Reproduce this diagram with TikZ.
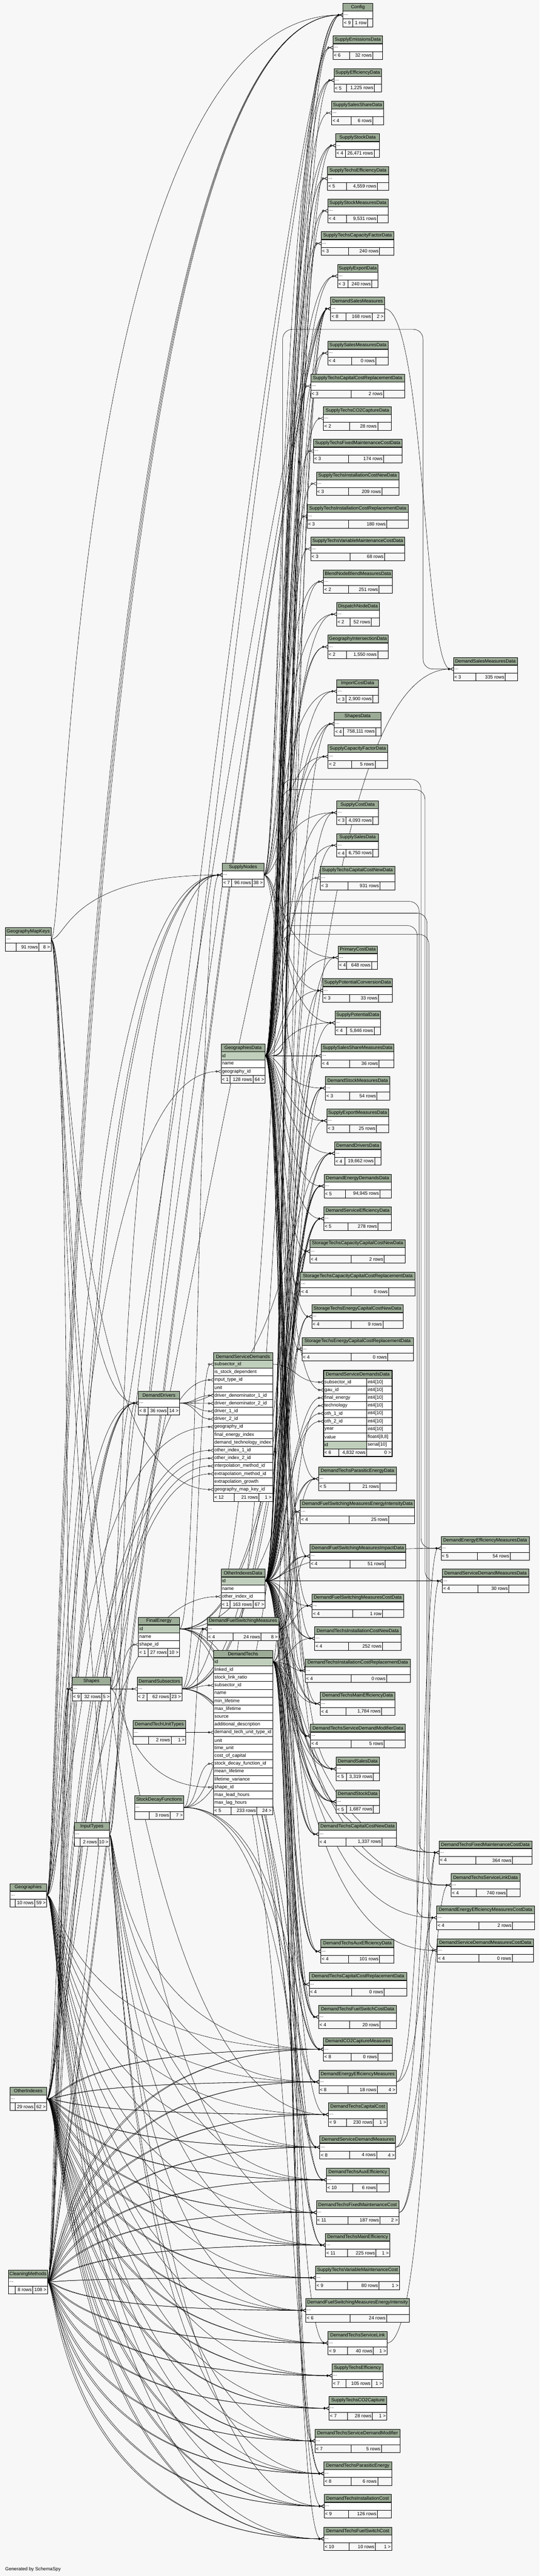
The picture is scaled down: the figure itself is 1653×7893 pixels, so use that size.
\documentclass[tikz,border=0pt]{standalone}
\usepackage{fontspec}
\setmainfont{Liberation Sans}
\usepackage{xcolor}
\usepackage{tikz}
\usetikzlibrary{arrows.meta}

\definecolor{pagebg}{HTML}{F7F7F7}
\definecolor{hdrgreen}{HTML}{9BAB96}
\definecolor{keygreen}{HTML}{BFCFBB}
\definecolor{footgray}{HTML}{F7F7F7}

\pgfdeclarelayer{back}
\pgfdeclarelayer{edges}
\pgfsetlayers{back,edges,main}

\newcommand{\tfont}{\fontsize{14.5}{16}\selectfont}

\tikzset{
  tblbox/.style={draw=black, line width=1pt, fill=white, minimum height=72, inner sep=0pt, outer sep=0pt},
  hdr/.style={draw=black, line width=1pt, fill=hdrgreen, minimum height=24, inner sep=0pt, outer sep=0pt, font=\tfont},
  cellbox/.style={draw=black, line width=1pt, minimum height=24, inner sep=0pt, outer sep=0pt},
  foot/.style={cellbox, fill=footgray},
  divline/.style={line width=1pt},
  txt/.style={inner sep=0pt, outer sep=0pt, font=\tfont},
  fk/.style={line width=0.9pt, -{Circle[open, length=6.5pt, width=6.5pt] Straight Barb[reversed, length=9pt, width=9pt]}}
}

% table pieces
\newcommand{\xhead}[4]{%
  \node[hdr, minimum width=#3, anchor=north west] (#1) at (#2) {#4};
  \draw[line width=2pt] (#1.south west) -- (#1.south east);}
\newcommand{\xrow}[5][white]{%
  \node[cellbox, fill=#1, minimum width=#4, anchor=north west] (#2) at (#3) {};
  \node[txt, anchor=west] (#2-t) at ([xshift=3]#2.west) {#5};}
\newcommand{\xrowt}[5][white]{%
  \node[cellbox, fill=#1, minimum width=132, anchor=north west] (#2) at (#3) {};
  \node[txt, anchor=west] (#2-t) at ([xshift=3]#2.west) {#4};
  \node[cellbox, fill=white, minimum width=78, anchor=north west] (#2-c) at (#2.north east) {};
  \node[txt, anchor=west] (#2-y) at ([xshift=3]#2-c.west) {#5};}
\newcommand{\xfoot}[8][]{%
  \node[foot, minimum width=#4, anchor=north west] (#2) at (#3) {};
  \draw[divline] ([xshift=#5]#2.north west) -- ([xshift=#5]#2.south west);
  \draw[divline] ([xshift=-#6]#2.north east) -- ([xshift=-#6]#2.south east);
  \node[txt, anchor=west] (#2-l) at ([xshift=3]#2.west) {#7};
  \node[txt, anchor=east] (#2-m) at ([xshift=-#6-3]#2.east) {#8};
  \node[txt, anchor=east] (#2-r) at ([xshift=-3]#2.east) {#1};}
\newcommand{\tbl}[9][]{%
  \node[tblbox, minimum width=#4, anchor=north west] (#2) at (#3) {};
  \xhead{#2-h}{#2.north west}{#4}{#5}
  \node[txt, anchor=west] (#2-d) at ([xshift=3]#2.west) {...};
  \xfoot[#1]{#2-f}{[yshift=-48]#2.north west}{#4}{#6}{#7}{#8}{#9}}
% connectors
\newcommand{\fk}[3]{\draw[fk] (#1) .. controls (#3,0 |- #1) and (#3,0 |- #2) .. (#2);}
\newcommand{\fkx}[4]{\draw[fk] (#1) .. controls (#3,0 |- #1) and (#4,0 |- #2) .. (#2);}
\newcommand{\fkarch}[4]{\draw[fk, rounded corners=30pt] (#1) -| (866,#3) -| (#4,0 |- #2) -- (#2);}

\newcommand{\geodatalist}{Config,SupplyEmissionsData,SupplyEfficiencyData,SupplySalesShareData,SupplyStockData,SupplyTechsEfficiencyData,SupplyStockMeasuresData,SupplyTechsCapacityFactorData,SupplyExportData,SupplySalesMeasuresData,SupplyTechsCapitalCostReplacementData,SupplyTechsCO2CaptureData,SupplyTechsFixedMaintenanceCostData,SupplyTechsInstallationCostNewData,SupplyTechsInstallationCostReplacementData,SupplyTechsVariableMaintenanceCostData,BlendNodeBlendMeasuresData,DispatchNodeData,GeographyIntersectionData,ImportCostData,ShapesData,SupplyCapacityFactorData,SupplyCostData,SupplySalesData,SupplyTechsCapitalCostNewData,PrimaryCostData,SupplyPotentialConversionData,SupplyPotentialData,SupplySalesShareMeasuresData,DemandStockMeasuresData,SupplyExportMeasuresData,DemandDriversData,DemandEnergyDemandsData,DemandServiceEfficiencyData,StorageTechsCapacityCapitalCostNewData,StorageTechsCapacityCapitalCostReplacementData,StorageTechsEnergyCapitalCostNewData,StorageTechsEnergyCapitalCostReplacementData,DemandTechsParasiticEnergyData,DemandFuelSwitchingMeasuresEnergyIntensityData,DemandFuelSwitchingMeasuresImpactData,DemandFuelSwitchingMeasuresCostData,DemandTechsInstallationCostNewData,DemandTechsInstallationCostReplacementData,DemandTechsMainEfficiencyData,DemandTechsServiceDemandModifierData,DemandSalesData,DemandStockData,DemandTechsCapitalCostNewData,DemandTechsAuxEfficiencyData,DemandTechsCapitalCostReplacementData,DemandTechsFuelSwitchCostData}
\newcommand{\othdatalist}{SupplyEmissionsData,SupplyEfficiencyData,SupplyStockData,SupplyTechsEfficiencyData,SupplyStockMeasuresData,SupplyTechsCapacityFactorData,SupplySalesMeasuresData,ShapesData,SupplyCostData,SupplySalesData,PrimaryCostData,SupplyPotentialConversionData,SupplyPotentialData,SupplySalesShareMeasuresData,DemandStockMeasuresData,SupplyExportMeasuresData,DemandDriversData,DemandEnergyDemandsData,DemandServiceEfficiencyData,StorageTechsCapacityCapitalCostNewData,StorageTechsCapacityCapitalCostReplacementData,StorageTechsEnergyCapitalCostNewData,StorageTechsEnergyCapitalCostReplacementData,DemandTechsParasiticEnergyData,DemandFuelSwitchingMeasuresEnergyIntensityData,DemandFuelSwitchingMeasuresImpactData,DemandFuelSwitchingMeasuresCostData,DemandTechsInstallationCostNewData,DemandTechsInstallationCostReplacementData,DemandTechsMainEfficiencyData,DemandTechsServiceDemandModifierData,DemandSalesData,DemandStockData,DemandTechsCapitalCostNewData,DemandTechsAuxEfficiencyData,DemandTechsCapitalCostReplacementData,DemandTechsFuelSwitchCostData,DemandSalesMeasuresData,DemandEnergyEfficiencyMeasuresData,DemandServiceDemandMeasuresData,DemandTechsFixedMaintenanceCostData,DemandTechsServiceLinkData,DemandEnergyEfficiencyMeasuresCostData,DemandServiceDemandMeasuresCostData}
\newcommand{\othtwolist}{DemandEnergyDemandsData,DemandServiceEfficiencyData,DemandDriversData,DemandSalesData,DemandStockData,DemandTechsMainEfficiencyData,DemandTechsAuxEfficiencyData,DemandTechsParasiticEnergyData,DemandFuelSwitchingMeasuresImpactData,DemandTechsInstallationCostNewData,DemandTechsCapitalCostNewData,StorageTechsCapacityCapitalCostNewData,StorageTechsEnergyCapitalCostNewData,DemandTechsServiceDemandModifierData,DemandTechsFuelSwitchCostData}
\newcommand{\dtlist}{DemandTechsParasiticEnergyData,DemandTechsInstallationCostNewData,DemandTechsInstallationCostReplacementData,DemandTechsMainEfficiencyData,DemandTechsServiceDemandModifierData,DemandSalesData,DemandStockData,DemandTechsCapitalCostNewData,DemandTechsAuxEfficiencyData,DemandTechsCapitalCostReplacementData,DemandTechsFuelSwitchCostData,DemandTechsAuxEfficiency,DemandTechsCapitalCost,DemandTechsFixedMaintenanceCost,DemandTechsMainEfficiency,DemandTechsServiceLink,DemandTechsServiceDemandModifier,DemandTechsParasiticEnergy,DemandTechsInstallationCost,DemandTechsFuelSwitchCost,DemandSalesMeasures,DemandTechsFixedMaintenanceCostData,DemandTechsServiceLinkData}
\newcommand{\bottomlist}{DemandCO2CaptureMeasures,DemandEnergyEfficiencyMeasures,DemandTechsCapitalCost,DemandServiceDemandMeasures,DemandTechsAuxEfficiency,DemandTechsFixedMaintenanceCost,DemandTechsMainEfficiency,SupplyTechsVariableMaintenanceCost,DemandFuelSwitchingMeasuresEnergyIntensity,DemandTechsServiceLink,SupplyTechsEfficiency,SupplyTechsCO2Capture,DemandTechsServiceDemandModifier,DemandTechsParasiticEnergy,DemandTechsInstallationCost,DemandTechsFuelSwitchCost}
\newcommand{\nodelist}{SupplyEfficiencyData,SupplyStockData,SupplyExportData,BlendNodeBlendMeasuresData,DispatchNodeData,ImportCostData,SupplyCapacityFactorData,SupplyCostData,PrimaryCostData,SupplyPotentialConversionData,SupplyPotentialData,SupplyExportMeasuresData}

\begin{document}
\begin{tikzpicture}[x=1pt,y=1pt]
    \useasboundingbox (0,0) rectangle (1653,-7893);
    \begin{pgfonlayer}{back}
        \fill[pagebg] (0,0) rectangle (1653,-7893);
    \end{pgfonlayer}

    % right column
    \tbl{Config}{1051,-10}{91}{Config}{30}{16}{< 9}{1 row}
    \tbl{SupplyEmissionsData}{1020,-110}{152}{SupplyEmissionsData}{51}{30}{< 6}{32 rows}
    \tbl{SupplyEfficiencyData}{1023,-210}{146}{SupplyEfficiencyData}{38}{22}{< 5}{1,225 rows}
    \tbl{SupplySalesShareData}{1016,-310}{159}{SupplySalesShareData}{59}{33}{< 4}{6 rows}
    \tbl{SupplyStockData}{1028,-410}{135}{SupplyStockData}{30}{17}{< 4}{26,471 rows}
    \tbl{SupplyTechsEfficiencyData}{1003,-511}{187}{SupplyTechsEfficiencyData}{58}{34}{< 5}{4,559 rows}
    \tbl{SupplyStockMeasuresData}{1004,-610}{185}{SupplyStockMeasuresData}{57}{33}{< 4}{9,531 rows}
    \tbl{SupplyTechsCapacityFactorData}{984,-710}{223}{SupplyTechsCapacityFactorData}{83}{44}{< 3}{240 rows}
    \tbl{SupplyExportData}{1034,-810}{124}{SupplyExportData}{32}{19}{< 3}{240 rows}
    \tbl[2 >]{DemandSalesMeasures}{1013,-910}{165}{DemandSalesMeasures}{47}{38}{< 8}{168 rows}
    \tbl{SupplySalesMeasuresData}{1004,-1046}{185}{SupplySalesMeasuresData}{73}{38}{< 4}{0 rows}
    \tbl{SupplyTechsCapitalCostReplacementData}{952,-1147}{287}{SupplyTechsCapitalCostReplacementData}{123}{64}{< 3}{2 rows}
    \tbl{SupplyTechsCO2CaptureData}{991,-1246}{208}{SupplyTechsCO2CaptureData}{79}{42}{< 2}{28 rows}
    \tbl{SupplyTechsFixedMaintenanceCostData}{960,-1346}{272}{SupplyTechsFixedMaintenanceCostData}{108}{57}{< 3}{174 rows}
    \tbl{SupplyTechsInstallationCostNewData}{969,-1446}{253}{SupplyTechsInstallationCostNewData}{98}{52}{< 3}{209 rows}
    \tbl{SupplyTechsInstallationCostReplacementData}{941,-1546}{310}{SupplyTechsInstallationCostReplacementData}{126}{66}{< 3}{180 rows}
    \tbl{SupplyTechsVariableMaintenanceCostData}{952,-1646}{288}{SupplyTechsVariableMaintenanceCostData}{120}{62}{< 3}{68 rows}
    \tbl{BlendNodeBlendMeasuresData}{991,-1746}{211}{BlendNodeBlendMeasuresData}{77}{41}{< 2}{251 rows}
    \tbl{DispatchNodeData}{1031,-1846}{131}{DispatchNodeData}{41}{25}{< 2}{52 rows}
    \tbl{GeographyIntersectionData}{1004,-1946}{185}{GeographyIntersectionData}{57}{32}{< 2}{1,550 rows}
    \tbl{ImportCostData}{1032,-2082}{127}{ImportCostData}{28}{17}{< 3}{2,900 rows}
    \tbl{ShapesData}{1024,-2182}{143}{ShapesData}{28}{16}{< 4}{758,111 rows}
    \tbl{SupplyCapacityFactorData}{1005,-2282}{182}{SupplyCapacityFactorData}{72}{38}{< 2}{5 rows}
    \tbl{SupplyCostData}{1032,-2454}{127}{SupplyCostData}{28}{17}{< 3}{4,093 rows}
    \tbl{SupplySalesData}{1032,-2554}{127}{SupplySalesData}{28}{17}{< 4}{6,750 rows}
    \tbl{SupplyTechsCapitalCostNewData}{981,-2654}{228}{SupplyTechsCapitalCostNewData}{85}{45}{< 3}{931 rows}
    \tbl{PrimaryCostData}{1036,-2898}{120}{PrimaryCostData}{25}{18}{< 4}{648 rows}
    \tbl{SupplyPotentialConversionData}{989,-2999}{213}{SupplyPotentialConversionData}{82}{43}{< 3}{33 rows}
    \tbl{SupplyPotentialData}{1026,-3098}{140}{SupplyPotentialData}{35}{20}{< 4}{5,846 rows}
    \tbl{SupplySalesShareMeasuresData}{984,-3199}{223}{SupplySalesShareMeasuresData}{87}{46}{< 4}{36 rows}
    \tbl{DemandStockMeasuresData}{997,-3298}{197}{DemandStockMeasuresData}{73}{39}{< 3}{54 rows}
    \tbl{SupplyExportMeasuresData}{1001,-3398}{189}{SupplyExportMeasuresData}{69}{37}{< 3}{25 rows}
    \tbl{DemandDriversData}{1025,-3498}{142}{DemandDriversData}{32}{19}{< 4}{19,662 rows}
    \tbl{DemandEnergyDemandsData}{993,-3598}{205}{DemandEnergyDemandsData}{65}{34}{< 5}{94,945 rows}
    \tbl{DemandServiceEfficiencyData}{992,-3698}{207}{DemandServiceEfficiencyData}{74}{41}{< 5}{278 rows}
    \tbl{StorageTechsCapacityCapitalCostNewData}{949,-3798}{293}{StorageTechsCapacityCapitalCostNewData}{126}{65}{< 4}{2 rows}
    \tbl{StorageTechsCapacityCapitalCostReplacementData}{920,-3898}{352}{StorageTechsCapacityCapitalCostReplacementData}{155}{81}{< 4}{0 rows}
    \tbl{StorageTechsEnergyCapitalCostNewData}{955,-3998}{280}{StorageTechsEnergyCapitalCostNewData}{120}{62}{< 4}{9 rows}
    \tbl{StorageTechsEnergyCapitalCostReplacementData}{925,-4098}{341}{StorageTechsEnergyCapitalCostReplacementData}{151}{78}{< 4}{0 rows}
    \tbl{DemandTechsParasiticEnergyData}{976,-4495}{238}{DemandTechsParasiticEnergyData}{95}{50}{< 5}{21 rows}
    \tbl{DemandFuelSwitchingMeasuresEnergyIntensityData}{920,-4596}{350}{DemandFuelSwitchingMeasuresEnergyIntensityData}{149}{79}{< 4}{25 rows}
    \tbl{DemandFuelSwitchingMeasuresImpactData}{949,-4732}{294}{DemandFuelSwitchingMeasuresImpactData}{123}{63}{< 4}{51 rows}
    \tbl{DemandFuelSwitchingMeasuresCostData}{956,-4884}{280}{DemandFuelSwitchingMeasuresCostData}{124}{64}{< 4}{1 row}
    \tbl{DemandTechsInstallationCostNewData}{964,-4984}{264}{DemandTechsInstallationCostNewData}{104}{56}{< 4}{252 rows}
    \tbl{DemandTechsInstallationCostReplacementData}{935,-5083}{322}{DemandTechsInstallationCostReplacementData}{140}{73}{< 4}{0 rows}
    \tbl{DemandTechsMainEfficiencyData}{981,-5184}{229}{DemandTechsMainEfficiencyData}{79}{41}{< 4}{1,784 rows}
    \tbl{DemandTechsServiceDemandModifierData}{951,-5283}{291}{DemandTechsServiceDemandModifierData}{125}{65}{< 4}{5 rows}
    \tbl{DemandSalesData}{1030,-5384}{132}{DemandSalesData}{31}{18}{< 5}{3,319 rows}
    \tbl{DemandStockData}{1030,-5484}{132}{DemandStockData}{31}{18}{< 5}{1,687 rows}
    \tbl{DemandTechsCapitalCostNewData}{976,-5584}{239}{DemandTechsCapitalCostNewData}{84}{45}{< 4}{1,337 rows}
    \tbl{DemandTechsAuxEfficiencyData}{983,-5943}{224}{DemandTechsAuxEfficiencyData}{84}{44}{< 4}{101 rows}
    \tbl{DemandTechsCapitalCostReplacementData}{947,-6044}{299}{DemandTechsCapitalCostReplacementData}{130}{69}{< 4}{0 rows}
    \tbl{DemandTechsFuelSwitchCostData}{976,-6144}{239}{DemandTechsFuelSwitchCostData}{95}{51}{< 4}{20 rows}
    \tbl{DemandCO2CaptureMeasures}{991,-6243}{211}{DemandCO2CaptureMeasures}{85}{44}{< 8}{0 rows}
    \tbl[4 >]{DemandEnergyEfficiencyMeasures}{977,-6343}{237}{DemandEnergyEfficiencyMeasures}{89}{58}{< 8}{18 rows}
    \tbl[1 >]{DemandTechsCapitalCost}{1006,-6443}{180}{DemandTechsCapitalCost}{55}{42}{< 9}{230 rows}
    \tbl[4 >]{DemandServiceDemandMeasures}{980,-6543}{232}{DemandServiceDemandMeasures}{90}{58}{< 8}{4 rows}
    \tbl{DemandTechsAuxEfficiency}{1000,-6643}{192}{DemandTechsAuxEfficiency}{80}{37}{< 10}{6 rows}
    \tbl[2 >]{DemandTechsFixedMaintenanceCost}{969,-6743}{253}{DemandTechsFixedMaintenanceCost}{97}{58}{< 11}{187 rows}
    \tbl[1 >]{DemandTechsMainEfficiency}{997,-6843}{197}{DemandTechsMainEfficiency}{67}{42}{< 11}{225 rows}
    \tbl[1 >]{SupplyTechsVariableMaintenanceCost}{967,-6943}{257}{SupplyTechsVariableMaintenanceCost}{98}{63}{< 9}{80 rows}
    \tbl{DemandFuelSwitchingMeasuresEnergyIntensity}{937,-7043}{317}{DemandFuelSwitchingMeasuresEnergyIntensity}{135}{70}{< 6}{24 rows}
    \tbl[1 >]{DemandTechsServiceLink}{1005,-7143}{181}{DemandTechsServiceLink}{60}{42}{< 9}{40 rows}
    \tbl[1 >]{SupplyTechsEfficiency}{1017,-7243}{157}{SupplyTechsEfficiency}{43}{36}{< 7}{105 rows}
    \tbl[1 >]{SupplyTechsCO2Capture}{1008,-7343}{177}{SupplyTechsCO2Capture}{57}{44}{< 7}{28 rows}
    \tbl{DemandTechsServiceDemandModifier}{965,-7443}{261}{DemandTechsServiceDemandModifier}{111}{58}{< 7}{5 rows}
    \tbl{DemandTechsParasiticEnergy}{992,-7543}{208}{DemandTechsParasiticEnergy}{84}{43}{< 8}{6 rows}
    \tbl{DemandTechsInstallationCost}{993,-7643}{205}{DemandTechsInstallationCost}{74}{42}{< 9}{126 rows}
    \tbl[1 >]{DemandTechsFuelSwitchCost}{992,-7743}{208}{DemandTechsFuelSwitchCost}{77}{50}{< 10}{10 rows}

    % far right column
    \tbl{DemandSalesMeasuresData}{1389,-2014}{196}{DemandSalesMeasuresData}{69}{37}{< 3}{335 rows}
    \tbl{DemandEnergyEfficiencyMeasuresData}{1351,-4708}{270}{DemandEnergyEfficiencyMeasuresData}{111}{58}{< 5}{54 rows}
    \tbl{DemandServiceDemandMeasuresData}{1355,-4808}{265}{DemandServiceDemandMeasuresData}{109}{61}{< 4}{30 rows}
    \tbl{DemandTechsFixedMaintenanceCostData}{1345,-5640}{284}{DemandTechsFixedMaintenanceCostData}{113}{59}{< 4}{364 rows}
    \tbl{DemandTechsServiceLinkData}{1382,-5740}{211}{DemandTechsServiceLinkData}{77}{40}{< 4}{740 rows}
    \tbl{DemandEnergyEfficiencyMeasuresCostData}{1338,-5840}{299}{DemandEnergyEfficiencyMeasuresCostData}{129}{67}{< 4}{2 rows}
    \tbl{DemandServiceDemandMeasuresCostData}{1339,-5940}{295}{DemandServiceDemandMeasuresCostData}{128}{65}{< 4}{0 rows}

    % middle and left columns
    \tbl[38 >]{SupplyNodes}{681,-2645}{127}{SupplyNodes}{28}{36}{< 7}{96 rows}
    \tbl[8 >]{GeographyMapKeys}{17,-2842}{139}{GeographyMapKeys}{33}{37}{}{91 rows}
    \tbl[14 >]{DemandDrivers}{424,-4263}{126}{DemandDrivers}{30}{36}{< 8}{36 rows}
    \tbl[8 >]{DemandFuelSwitchingMeasures}{635,-4955}{219}{DemandFuelSwitchingMeasures}{79}{54}{< 4}{24 rows}
    \tbl[5 >]{Shapes}{221,-5139}{118}{Shapes}{28}{27}{< 9}{32 rows}
    \tbl[23 >]{DemandSubsectors}{420,-5139}{137}{DemandSubsectors}{31}{36}{< 2}{62 rows}
    \tbl[1 >]{DemandTechUnitTypes}{407,-5272}{162}{DemandTechUnitTypes}{48}{45}{}{2 rows}
    \tbl[7 >]{StockDecayFunctions}{412,-5502}{151}{StockDecayFunctions}{45}{42}{}{3 rows}
    \tbl[10 >]{InputTypes}{228,-5584}{107}{InputTypes}{17}{35}{}{2 rows}
    \tbl[59 >]{Geographies}{30,-5771}{113}{Geographies}{17}{37}{}{10 rows}
    \tbl[62 >]{OtherIndexes}{30,-6395}{113}{OtherIndexes}{17}{37}{}{29 rows}
    \tbl[108 >]{CleaningMethods}{26,-6956}{119}{CleaningMethods}{20}{45}{}{8 rows}

    \xhead{GeographiesData}{677,-3199}{135}{GeographiesData}
    \xrow[keygreen]{GeographiesData-id}{GeographiesData.south west}{135}{id}
    \xrow{GeographiesData-name}{GeographiesData-id.south west}{135}{name}
    \xrow{GeographiesData-geo}{GeographiesData-name.south west}{135}{geography\_id}
    \xfoot[64 >]{GeographiesData-f}{GeographiesData-geo.south west}{135}{28}{37}{< 1}{128 rows}

    \xhead{OtherIndexesData}{677,-4808}{135}{OtherIndexesData}
    \xrow[keygreen]{OtherIndexesData-id}{OtherIndexesData.south west}{135}{id}
    \xrow{OtherIndexesData-name}{OtherIndexesData-id.south west}{135}{name}
    \xrow{OtherIndexesData-oid}{OtherIndexesData-name.south west}{135}{other\_index\_id}
    \xfoot[67 >]{OtherIndexesData-f}{OtherIndexesData-oid.south west}{135}{28}{37}{< 1}{163 rows}

    \xhead{FinalEnergy}{424,-4955}{126}{FinalEnergy}
    \xrow[keygreen]{FinalEnergy-id}{FinalEnergy.south west}{126}{id}
    \xrow{FinalEnergy-name}{FinalEnergy-id.south west}{126}{name}
    \xrow{FinalEnergy-shape}{FinalEnergy-name.south west}{126}{shape\_id}
    \xfoot[10 >]{FinalEnergy-f}{FinalEnergy-shape.south west}{126}{30}{36}{< 1}{27 rows}

    \xhead{DSD}{654,-4144}{181}{DemandServiceDemands}
    \xrow[keygreen]{DSD-sub}{654,-4168}{181}{subsector\_id}
    \foreach \rn/\rt [count=\i from 2] in {stock/is\_stock\_dependent, input/input\_type\_id, unit/unit,
        dd1/driver\_denominator\_1\_id, dd2/driver\_denominator\_2\_id, dr1/driver\_1\_id, dr2/driver\_2\_id,
        geo/geography\_id, fei/final\_energy\_index, dti/demand\_technology\_index, oi1/other\_index\_1\_id,
        oi2/other\_index\_2\_id, interp/interpolation\_method\_id, extrap/extrapolation\_method\_id,
        growth/extrapolation\_growth, gmk/geography\_map\_key\_id}
        {\xrow{DSD-\rn}{654,{-4144-24*\i}}{181}{\rt}}
    \xfoot[1 >]{DSD-f}{654,-4576}{181}{63}{42}{< 12}{21 rows}

    \xhead{DT}{654,-5056}{181}{DemandTechs}
    \xrow[keygreen]{DT-id}{654,-5080}{181}{id}
    \foreach \rn/\rt [count=\i from 2] in {linked/linked\_id, slr/stock\_link\_ratio, sub/subsector\_id, name/name,
        minl/min\_lifetime, maxl/max\_lifetime, src/source, add/additional\_description,
        utype/demand\_tech\_unit\_type\_id, unit/unit, tunit/time\_unit, coc/cost\_of\_capital,
        sdf/stock\_decay\_function\_id, meanl/mean\_lifetime, lvar/lifetime\_variance, shape/shape\_id,
        lead/max\_lead\_hours, lag/max\_lag\_hours}
        {\xrow{DT-\rn}{654,{-5056-24*\i}}{181}{\rt}}
    \xfoot[24 >]{DT-f}{654,-5536}{181}{53}{48}{< 5}{233 rows}

    % the table in focus
    \xhead{DSDD}{991,-4199}{210}{DemandServiceDemandsData}
    \xrowt{DSDD-sub}{991,-4223}{subsector\_id}{int4[10]}
    \xrowt{DSDD-gau}{991,-4247}{gau\_id}{int4[10]}
    \xrowt{DSDD-fe}{991,-4271}{final\_energy}{int4[10]}
    \xrowt{DSDD-tech}{991,-4295}{technology}{int4[10]}
    \xrowt{DSDD-oth1}{991,-4319}{oth\_1\_id}{int4[10]}
    \xrowt{DSDD-oth2}{991,-4343}{oth\_2\_id}{int4[10]}
    \xrowt{DSDD-year}{991,-4367}{year}{int4[10]}
    \xrowt{DSDD-value}{991,-4391}{value}{float4[8,8]}
    \xrowt[keygreen]{DSDD-id}{991,-4415}{id}{serial[10]}
    \xfoot[0 >]{DSDD-f}{991,-4439}{210}{47}{78}{< 6}{4,832 rows}
    \draw[line width=3pt] (DSDD.north west) rectangle (DSDD-f.south east);

    \node[txt, anchor=west] (credit) at (16,-7873) {Generated by SchemaSpy};

    \begin{pgfonlayer}{edges}
    % focus table
    \fk{DSD-sub.east}{DSDD-sub.west}{905}
    \fk{GeographiesData-id.east}{DSDD-gau.west}{866}
    \fk{FinalEnergy-id.east}{DSDD-fe.west}{884}
    \fk{DT-id.east}{DSDD-tech.west}{892}
    \fk{OtherIndexesData-id.east}{DSDD-oth1.west}{878}
    \fk{OtherIndexesData-id.east}{DSDD-oth2.west}{874}

    % GeographiesData, OtherIndexesData, DemandTechs, FinalEnergy
    \foreach \c in \geodatalist {\fk{GeographiesData-id.east}{\c.west}{866}}
    \fk{GeographiesData-id.east}{Config.west}{860}
    \fk{GeographiesData-id.east}{GeographyIntersectionData.west}{860}
    \foreach \c/\ay/\bx in {DemandSalesMeasuresData/-1009/1296, DemandEnergyEfficiencyMeasuresData/-2388/1290,
        DemandServiceDemandMeasuresData/-2419/1302, DemandTechsFixedMaintenanceCostData/-2762/1284,
        DemandTechsServiceLinkData/-2798/1308, DemandEnergyEfficiencyMeasuresCostData/-2836/1278,
        DemandServiceDemandMeasuresCostData/-2863/1314}
        {\fkarch{GeographiesData-id.east}{\c.west}{\ay}{\bx}}
    \foreach \c in \othdatalist {\fk{OtherIndexesData-id.east}{\c.west}{878}}
    \foreach \c in \othtwolist {\fk{OtherIndexesData-id.east}{\c.west}{884}}
    \foreach \c in \dtlist {\fk{DT-id.east}{\c.west}{892}}
    \foreach \c in {DemandEnergyDemandsData,DemandServiceEfficiencyData,DemandTechsMainEfficiency,
        DemandTechsAuxEfficiency,DemandTechsParasiticEnergy,DemandCO2CaptureMeasures}
        {\fk{FinalEnergy-id.east}{\c.west}{884}}
    \fk{FinalEnergy-id.east}{DemandFuelSwitchingMeasures.west}{590}
    \fk{FinalEnergy-id.east}{DemandFuelSwitchingMeasures.west}{602}
    \fk{FinalEnergy-id.east}{SupplyNodes.west}{610}

    % middle parents
    \foreach \c in {DemandFuelSwitchingMeasuresImpactData,DemandFuelSwitchingMeasuresCostData,
        DemandFuelSwitchingMeasuresEnergyIntensityData,DemandFuelSwitchingMeasuresEnergyIntensity}
        {\fk{DemandFuelSwitchingMeasures.east}{\c.west}{905}}
    \foreach \c in \nodelist {\fk{SupplyNodes.east}{\c.west}{856}}
    \fk{DemandSubsectors.east}{DSD-sub.west}{605}
    \fk{DemandSubsectors.east}{DT-sub.west}{605}
    \fk{DemandSubsectors.east}{DemandFuelSwitchingMeasures.west}{598}
    \foreach \c in {DemandSalesMeasures,DemandStockMeasuresData,DemandEnergyDemandsData,DemandServiceEfficiencyData,
        DemandEnergyEfficiencyMeasures,DemandServiceDemandMeasures,DemandCO2CaptureMeasures}
        {\fk{DemandSubsectors.east}{\c.west}{872}}
    \fk{Shapes.east}{DemandSubsectors.west}{380}
    \fk{Shapes.east}{FinalEnergy-shape.west}{375}
    \fk{Shapes.east}{DT-shape.west}{375}
    \fkx{Shapes.east}{ShapesData.west}{370}{862}
    \fk{Shapes.east}{SupplyNodes.west}{365}
    \foreach \r in {dd1,dd2,dr1,dr2} {\fk{DemandDrivers.east}{DSD-\r.west}{600}}
    \fk{DemandDrivers.east}{DemandDriversData.west}{888}
    \fk{InputTypes.east}{DSD-input.west}{365}
    \fk{InputTypes.east}{DemandDrivers.west}{372}
    \foreach \c in {DemandEnergyEfficiencyMeasures,DemandServiceDemandMeasures,DemandFuelSwitchingMeasuresEnergyIntensity,
        DemandTechsMainEfficiency,DemandTechsAuxEfficiency,DemandTechsParasiticEnergy,DemandCO2CaptureMeasures,
        DemandTechsServiceDemandModifier}
        {\fk{InputTypes.east}{\c.west}{360}}
    \fk{StockDecayFunctions.east}{DT-sdf.west}{605}
    \fk{StockDecayFunctions.east}{DemandFuelSwitchingMeasures.west}{600}
    \foreach \c in {DemandEnergyEfficiencyMeasures,DemandServiceDemandMeasures,DemandCO2CaptureMeasures,
        DemandSalesMeasures,DemandStockMeasuresData}
        {\fk{StockDecayFunctions.east}{\c.west}{896}}
    \fk{DemandTechUnitTypes.east}{DT-utype.west}{612}

    % left parents
    \foreach \c in {Config,SupplyNodes,DemandDrivers,Shapes,DemandTechsCapitalCost,DemandTechsFixedMaintenanceCost,
        DemandTechsInstallationCost}
        {\fk{GeographyMapKeys.east}{\c.west}{206}}
    \fk{GeographyMapKeys.east}{DSD-gmk.west}{206}
    \fk{Geographies.east}{GeographiesData-geo.west}{190}
    \fk{Geographies.east}{DSD-geo.west}{190}
    \foreach \bx in {186,192,198} {\fk{Geographies.east}{Config.west}{\bx}}
    \foreach \c in {DemandDrivers,Shapes,SupplyNodes} {\fk{Geographies.east}{\c.west}{190}}
    \fkx{Geographies.east}{DemandSalesMeasures.west}{190}{862}
    \foreach \c in \bottomlist {\fk{Geographies.east}{\c.west}{190}}
    \fk{OtherIndexes.east}{OtherIndexesData-oid.west}{196}
    \fk{OtherIndexes.east}{DSD-oi1.west}{196}
    \fk{OtherIndexes.east}{DSD-oi2.west}{202}
    \foreach \c in {DemandDrivers,Shapes,SupplyNodes} {\fk{OtherIndexes.east}{\c.west}{196}}
    \fkx{OtherIndexes.east}{DemandSalesMeasures.west}{196}{868}
    \fkx{OtherIndexes.east}{Config.west}{196}{864}
    \foreach \c in \bottomlist {\fk{OtherIndexes.east}{\c.west}{196} \fk{OtherIndexes.east}{\c.west}{204}}
    \fk{CleaningMethods.east}{DSD-interp.west}{180}
    \fk{CleaningMethods.east}{DSD-extrap.west}{186}
    \foreach \c in {DemandDrivers,Shapes,SupplyNodes} {\fk{CleaningMethods.east}{\c.west}{180}}
    \foreach \c in {DemandDrivers,Shapes} {\fk{CleaningMethods.east}{\c.west}{186}}
    \fkx{CleaningMethods.east}{DemandSalesMeasures.west}{180}{870}
    \fkx{CleaningMethods.east}{DemandSalesMeasures.west}{186}{874}
    \fkx{CleaningMethods.east}{Config.west}{180}{868}
    \foreach \c in \bottomlist {\fk{CleaningMethods.east}{\c.west}{178} \fk{CleaningMethods.east}{\c.west}{186}}

    % far right children
    \fk{DemandSalesMeasures.east}{DemandSalesMeasuresData.west}{1300}
    \fk{DemandEnergyEfficiencyMeasures.east}{DemandEnergyEfficiencyMeasuresData.west}{1295}
    \fk{DemandEnergyEfficiencyMeasures.east}{DemandEnergyEfficiencyMeasuresCostData.west}{1290}
    \fk{DemandServiceDemandMeasures.east}{DemandServiceDemandMeasuresData.west}{1305}
    \fk{DemandServiceDemandMeasures.east}{DemandServiceDemandMeasuresCostData.west}{1300}
    \fk{DemandTechsFixedMaintenanceCost.east}{DemandTechsFixedMaintenanceCostData.west}{1300}
    \fk{DemandTechsFixedMaintenanceCost.east}{DemandTechsFixedMaintenanceCostData.west}{1308}
    \fk{DemandTechsServiceLink.east}{DemandTechsServiceLinkData.west}{1312}
    \end{pgfonlayer}
\end{tikzpicture}
\end{document}
